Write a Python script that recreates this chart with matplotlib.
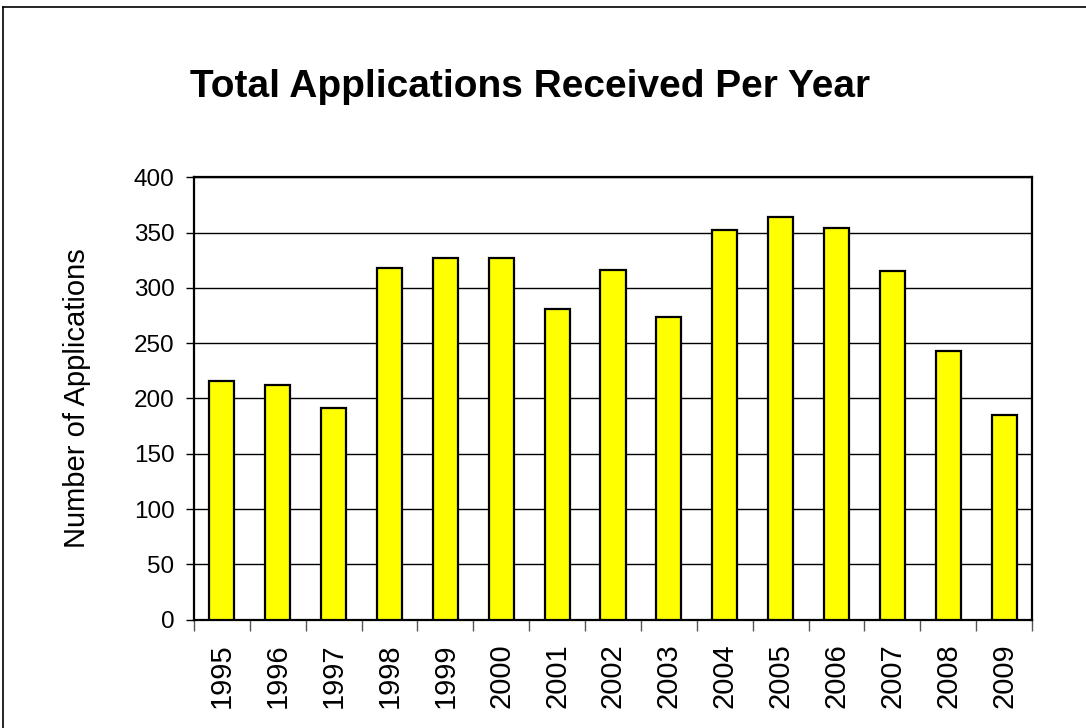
import matplotlib.pyplot as plt
from matplotlib.lines import Line2D
from matplotlib.transforms import blended_transform_factory

# values
years = ['1995', '1996', '1997', '1998', '1999', '2000', '2001', '2002',
         '2003', '2004', '2005', '2006', '2007', '2008', '2009']
applications = [216, 212, 191, 318, 327, 327, 281, 316,
                274, 352, 364, 354, 315, 243, 185]

plt.rcParams['font.family'] = ['Liberation Sans', 'DejaVu Sans']

fig = plt.figure(figsize=(10.86, 7.28), dpi=100)
ax = fig.add_axes([0.1786, 0.1488, 0.9503 - 0.1786, 0.7565 - 0.1488])

x = list(range(len(years)))
ax.bar(x, applications, width=0.45, color='#FFFF00', edgecolor='black',
       linewidth=1.6, zorder=3)

ax.set_xlim(-0.5, len(years) - 0.5)
ax.set_ylim(0, 400)
ax.set_yticks(range(0, 401, 50))
ax.yaxis.grid(True, color='black', linewidth=1.0, zorder=0)

ax.set_xticks(x)
ax.set_xticklabels(years, rotation=90, fontsize=21)
ax.set_xticks([i - 0.5 for i in range(len(years) + 1)], minor=True)
ax.tick_params(axis='x', which='major', length=0, pad=17)
ax.tick_params(axis='x', which='minor', length=8, width=1, color='#555555')
ax.tick_params(axis='y', length=6, width=1, pad=8, labelsize=17.5)

for s in ax.spines.values():
    s.set_linewidth(1.6)
    s.set_color('black')

ax.set_ylabel('Number of Applications', fontsize=21)
ax.yaxis.set_label_coords(91 / 1086, 0.5,
                          transform=blended_transform_factory(fig.transFigure, ax.transAxes))

fig.text(530 / 1086, 1 - 87 / 728, 'Total Applications Received Per Year',
         fontsize=28, fontweight='bold', ha='center', va='center')

# outer chart frame (cropped at the right and bottom in the original)
fig.add_artist(Line2D([3 / 1086, 1.0], [1 - 7 / 728, 1 - 7 / 728],
                      transform=fig.transFigure, color='black', linewidth=1.2))
fig.add_artist(Line2D([3 / 1086, 3 / 1086], [0.0, 1 - 7 / 728],
                      transform=fig.transFigure, color='black', linewidth=1.2))

fig.savefig('out.png', dpi=100)
